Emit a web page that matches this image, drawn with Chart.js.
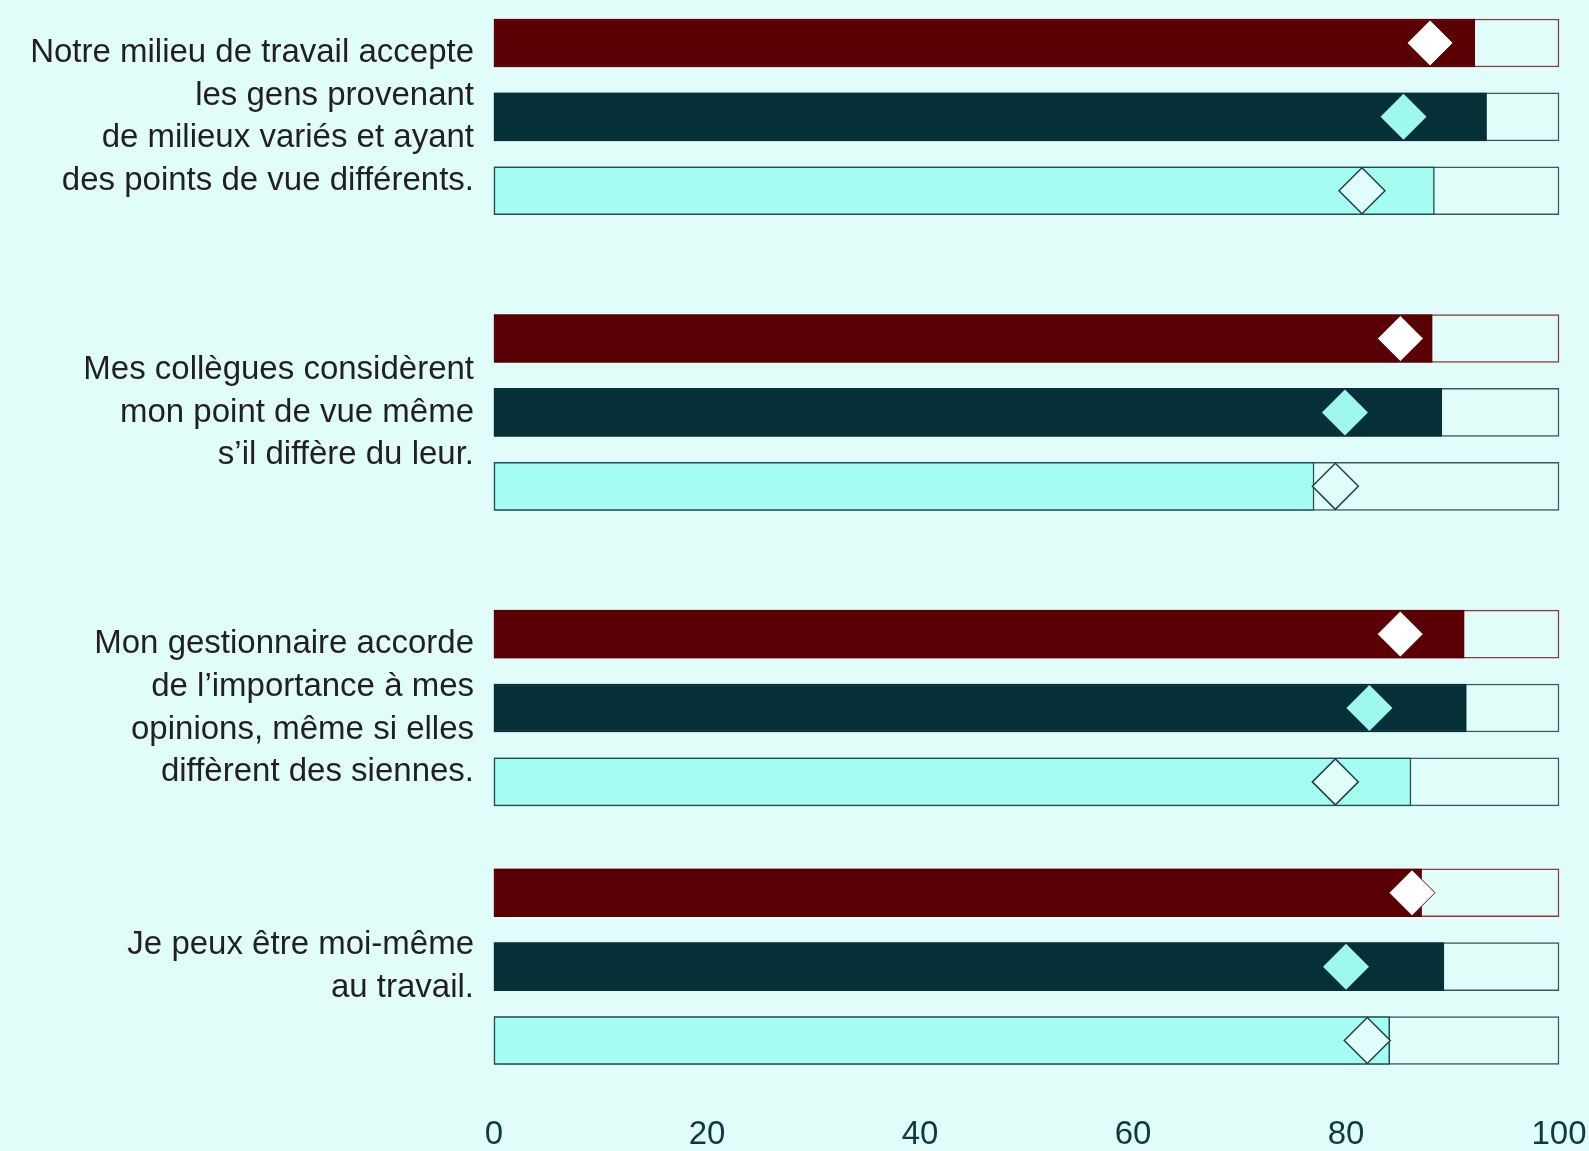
<!DOCTYPE html>
<html lang="fr">
<head>
<meta charset="utf-8">
<title>Inclusion au travail</title>
<script src="https://cdn.jsdelivr.net/npm/chart.js@4/dist/chart.umd.min.js"></script>
<style>
  html, body { margin: 0; padding: 0; background: #e1fdfa; }
  #wrap { width: 1589px; height: 1151px; }
</style>
</head>
<body>
<div id="wrap"><canvas id="chart" width="1589" height="1151"></canvas></div>
<script>
// énoncés (une ligne par élément)
const groupLabels = [
    ['Notre milieu de travail accepte', 'les gens provenant', 'de milieux variés et ayant', 'des points de vue différents.'],
    ['Mes collègues considèrent', 'mon point de vue même', 's’il diffère du leur.'],
    ['Mon gestionnaire accorde', 'de l’importance à mes', 'opinions, même si elles', 'diffèrent des siennes.'],
    ['Je peux être moi-même', 'au travail.']
];

// barres (%)
const redValues  = [92.1, 88.1, 91.1, 87.1];
const tealValues = [93.2, 89.0, 91.3, 89.2];
const cyanValues = [88.3, 77.0, 86.1, 84.1];

// losanges (%)
const redMarks  = [87.9, 85.1, 85.1, 86.2];
const tealMarks = [85.4, 79.9, 82.2, 80.0];
const cyanMarks = [81.5, 79.0, 79.0, 82.0];

const xTicks = [0, 20, 40, 60, 80, 100];
const maxValue = 100;

// couleurs
const BG = '#e1fdfa';
const series = [
    { values: redValues,  marks: redMarks,  fill: '#5a0005', border: '#5a0005', track: '#8c3c3c',
      markFill: '#ffffff', markBorder: '#6a0a0a', markBorderWidth: 1 },
    { values: tealValues, marks: tealMarks, fill: '#053038', border: '#053038', track: '#2f5d62',
      markFill: '#9ef8ec', markBorder: '#9ef8ec', markBorderWidth: 0 },
    { values: cyanValues, marks: cyanMarks, fill: '#a4fdf0', border: '#1f4c50', track: '#2f5d62',
      markFill: BG, markBorder: '#1d4448', markBorderWidth: 1.5 }
];

// cases vides après chaque groupe
const gapSlots = [3, 3, 2];

// construction des lignes de la grille
const labels = [], trackData = [], fillData = [], markData = [], rowSeries = [];
function pushEmpty() {
    labels.push('');
    trackData.push(null);
    fillData.push(null);
    markData.push(null);
    rowSeries.push(-1);
}
groupLabels.forEach((g, gi) => {
    series.forEach((s, si) => {
        if (si > 0) pushEmpty();
        labels.push(si === 1 ? g : '');
        trackData.push(maxValue);
        fillData.push(s.values[gi]);
        markData.push(s.marks[gi]);
        rowSeries.push(si);
    });
    if (gi < gapSlots.length) {
        for (let k = 0; k < gapSlots[gi]; k++) pushEmpty();
    }
});

function styleOf(ctx, key) {
    const si = rowSeries[ctx.dataIndex];
    return si < 0 ? 'transparent' : series[si][key];
}

const ctx = document.getElementById('chart').getContext('2d');
new Chart(ctx, {
    type: 'bar',
    data: {
        labels: labels,
        datasets: [
            {
                type: 'line',
                indexAxis: 'y',
                data: markData,
                showLine: false,
                clip: false,
                pointStyle: 'rectRot',
                pointRadius: 23,
                pointHoverRadius: 23,
                pointBackgroundColor: c => styleOf(c, 'markFill'),
                pointBorderColor: c => styleOf(c, 'markBorder'),
                pointBorderWidth: c => { const si = rowSeries[c.dataIndex]; return si < 0 ? 0 : series[si].markBorderWidth; },
                order: 0
            },
            {
                data: fillData,
                grouped: false,
                clip: false,
                barThickness: 48,
                backgroundColor: c => styleOf(c, 'fill'),
                borderColor: c => styleOf(c, 'border'),
                borderWidth: 1.5,
                borderSkipped: false,
                order: 1
            },
            {
                data: trackData,
                grouped: false,
                clip: false,
                barThickness: 48,
                backgroundColor: BG,
                borderColor: c => styleOf(c, 'track'),
                borderWidth: 1.5,
                borderSkipped: false,
                order: 2
            }
        ]
    },
    options: {
        indexAxis: 'y',
        responsive: false,
        animation: false,
        layout: { padding: { left: 0, right: 30, top: 20.5, bottom: 0 } },
        plugins: {
            legend: { display: false },
            tooltip: { enabled: false }
        },
        scales: {
            x: {
                type: 'linear',
                min: 0,
                max: maxValue,
                border: { display: false },
                grid: { display: false, drawTicks: false },
                afterBuildTicks: s => { s.ticks = xTicks.map(v => ({ value: v })); },
                afterFit: s => { s.height = 92; s.paddingLeft = 0; s.paddingRight = 0; },
                ticks: {
                    padding: 56,
                    color: '#0b3b41',
                    font: { family: '"Liberation Sans", Arial, sans-serif', size: 33 }
                }
            },
            y: {
                border: { display: false },
                grid: { display: false, drawTicks: false },
                afterFit: s => { s.width = 494; s.paddingTop = 0; s.paddingBottom = 0; },
                ticks: {
                    autoSkip: false,
                    padding: 20,
                    color: '#231f20',
                    font: { family: '"Liberation Sans", Arial, sans-serif', size: 33, lineHeight: 1.3 }
                }
            }
        }
    }
});
</script>
</body>
</html>
